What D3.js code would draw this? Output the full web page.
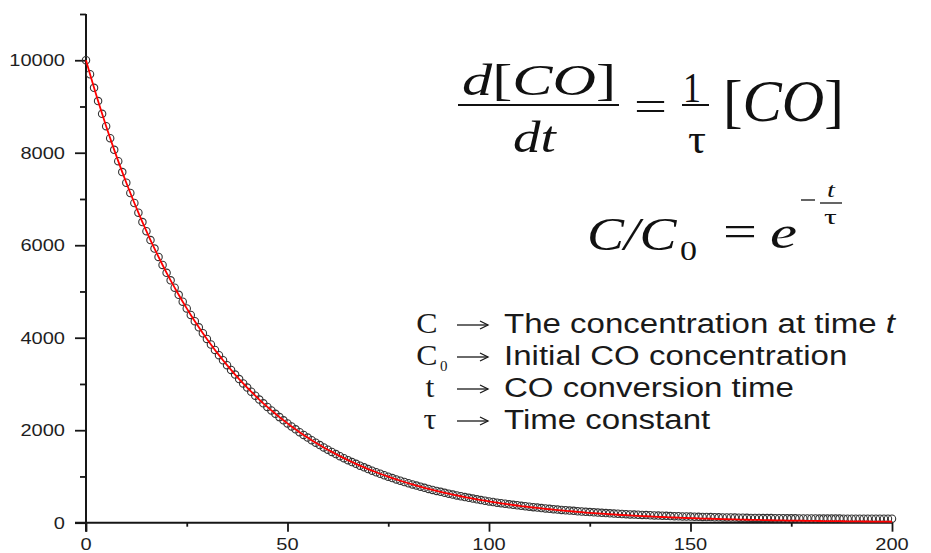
<!DOCTYPE html>
<html>
<head>
<meta charset="utf-8">
<script src="https://cdn.jsdelivr.net/npm/d3@7"></script>
<style>
  html, body { margin: 0; padding: 0; background: #fff; }
  svg { display: block; }
</style>
</head>
<body>
<svg id="chart" width="931" height="553"></svg>
<script>
// CO conversion: sampled concentration (circles) and exponential fit (red line)
const times = [
  0,1,2,3,4,5,6,7,8,9,10,11,12,13,14,15,16,17,18,19,
  20,21,22,23,24,25,26,27,28,29,30,31,32,33,34,35,36,37,38,39,
  40,41,42,43,44,45,46,47,48,49,50,51,52,53,54,55,56,57,58,59,
  60,61,62,63,64,65,66,67,68,69,70,71,72,73,74,75,76,77,78,79,
  80,81,82,83,84,85,86,87,88,89,90,91,92,93,94,95,96,97,98,99,
  100,101,102,103,104,105,106,107,108,109,110,111,112,113,114,115,116,117,118,119,
  120,121,122,123,124,125,126,127,128,129,130,131,132,133,134,135,136,137,138,139,
  140,141,142,143,144,145,146,147,148,149,150,151,152,153,154,155,156,157,158,159,
  160,161,162,163,164,165,166,167,168,169,170,171,172,173,174,175,176,177,178,179,
  180,181,182,183,184,185,186,187,188,189,190,191,192,193,194,195,196,197,198,199,
  200
];

const fitted = [
  10000,9697,9403,9118,8842,8574,8314,8062,7818,7581,
  7351,7129,6913,6703,6500,6303,6112,5927,5747,5573,
  5404,5241,5082,4928,4779,4634,4493,4357,4225,4097,
  3973,3853,3736,3623,3513,3406,3303,3203,3106,3012,
  2921,2832,2746,2663,2582,2504,2428,2355,2283,2214,
  2147,2082,2019,1958,1898,1841,1785,1731,1679,1628,
  1578,1531,1484,1439,1396,1353,1312,1273,1234,1197,
  1160,1125,1091,1058,1026,995,965,936,907,880,
  853,827,802,778,754,731,709,688,667,647,
  627,608,590,572,554,538,521,506,490,475,
  461,447,433,420,408,395,383,372,360,350,
  339,329,319,309,300,291,282,273,265,257,
  249,242,234,227,220,214,207,201,195,189,
  183,178,172,167,162,157,152,148,143,139,
  135,131,127,123,119,115,112,109,105,102,
  99,96,93,90,88,85,82,80,77,75,
  73,71,68,66,64,62,61,59,57,55,
  53,52,50,49,47,46,45,43,42,41,
  39,38,37,36,35,34,33,32,31,30,
  29,28,27,26,26,25,24,23,23,22,
  21
];

// measured points follow the fit closely, then level off slightly above it
const measuredTail = [
  448,434,422,411,398,387,377,365,356,
  346,336,327,317,309,301,292,284,277,269,
  262,256,248,242,236,230,224,219,213,208,
  203,198,193,188,184,180,175,172,168,164,
  161,158,154,151,148,144,142,140,136,134,
  132,129,127,124,123,121,118,117,115,113,
  112,111,108,107,106,104,104,103,101,100,
  99,98,97,96,95,95,94,93,93,92,
  91,91,90,90,90,89,89,89,88,88,
  88,87,87,86,87,87,86,86,87,86,
  86
];
const measured = fitted.slice(0, 101).concat(measuredTail);

const xTicksMajor = [0, 50, 100, 150, 200];
const xTicksMinor = [25, 75, 125, 175];
const yTicksMajor = [0, 2000, 4000, 6000, 8000, 10000];
const yTicksMinor = [1000, 3000, 5000, 7000, 9000, 11000];

const legendSymbols = ["C", "C", "t", "\u03C4"];
const legendSubs = ["", "0", "", ""];
const legendTexts = ["The concentration at time ", "Initial CO concentration", "CO conversion time", "Time constant"];

const svg = d3.select("#chart");
const x = d3.scaleLinear().domain([0, 200]).range([86, 892]);
const y = d3.scaleLinear().domain([0, 11000]).range([522.7, 14]);

const SANS = "'Liberation Sans', Arial, sans-serif";
const SERIF = "'Liberation Serif', 'Times New Roman', serif";
const TEXT_SX = 1.18;

// ---- axes ----
const axisColor = "#161616";
const gx = svg.append("g").attr("transform", `translate(0,${y(0)})`);
gx.call(d3.axisBottom(x).tickValues(xTicksMajor).tickSize(9).tickFormat(""));
gx.append("g").call(d3.axisBottom(x).tickValues(xTicksMinor).tickSize(4).tickFormat(""));
const gy = svg.append("g").attr("transform", `translate(${x(0)},0)`);
gy.call(d3.axisLeft(y).tickValues(yTicksMajor).tickSize(11).tickFormat(""));
gy.append("g").call(d3.axisLeft(y).tickValues(yTicksMinor).tickSize(6).tickFormat(""));
svg.selectAll(".domain").remove();
svg.selectAll(".tick line").attr("stroke", axisColor).attr("stroke-width", 1.8);
svg.append("line").attr("x1", 75).attr("x2", x(200) + 1).attr("y1", y(0)).attr("y2", y(0))
  .attr("stroke", axisColor).attr("stroke-width", 2);
svg.append("line").attr("x1", x(0)).attr("x2", x(0)).attr("y1", y(11000)).attr("y2", y(0) + 9)
  .attr("stroke", axisColor).attr("stroke-width", 2);

// tick labels, slightly widened glyphs
function label(str, px, py, anchor) {
  return svg.append("text").text(str)
    .attr("font-family", SANS).attr("font-size", 17).attr("fill", "#1e1e1e")
    .attr("text-anchor", anchor)
    .attr("transform", `translate(${px},${py}) scale(${TEXT_SX},1)`);
}
yTicksMajor.forEach(v => label(String(v), 65, y(v) + 6, "end"));
xTicksMajor.forEach(v => label(String(v), x(v), 549.5, "middle"));

// ---- data ----
const pts = times.map((t, i) => ({ t, m: measured[i], f: fitted[i] }));
svg.append("g").selectAll("circle").data(pts).join("circle")
  .attr("cx", d => x(d.t)).attr("cy", d => y(d.m)).attr("r", 3.7)
  .attr("fill", "none").attr("stroke", "#333").attr("stroke-width", 1.1);
svg.append("path").datum(pts)
  .attr("d", d3.line().x(d => x(d.t)).y(d => y(d.f)))
  .attr("fill", "none").attr("stroke", "#ff0000").attr("stroke-width", 1.8);

// ---- equations ----
// place a run of text so that it spans [left, right] horizontally on the given baseline
function fit(parts, left, right, baseline, size, family, color) {
  const t = svg.append("text").attr("font-family", family).attr("font-size", size).attr("fill", color || "#111");
  parts.forEach(p => t.append("tspan").text(p[0]).attr("font-style", p[1] ? "italic" : "normal"));
  const bb = t.node().getBBox();
  const sx = (right - left) / bb.width;
  t.attr("transform", `translate(${left - bb.x * sx},${baseline}) scale(${sx},1)`);
  return t;
}
function bar(x1, x2, yy, w) {
  svg.append("line").attr("x1", x1).attr("x2", x2).attr("y1", yy).attr("y2", yy)
    .attr("stroke", "#111").attr("stroke-width", w);
}

fit([["d", 1], ["[", 0], ["CO", 1], ["]", 0]], 462, 616, 95, 44, SERIF);
bar(458, 619, 105, 2);
fit([["dt", 1]], 513, 558, 152, 44, SERIF);
fit([["=", 0]], 634, 667, 119.5, 42, SERIF);
fit([["1", 0]], 683, 701, 102, 42, SERIF);
bar(682, 709, 105, 2);
fit([["\u03C4", 0]], 688, 706, 153, 42, SERIF);
fit([["[", 0], ["CO", 1], ["]", 0]], 723, 844, 121, 60, SERIF);

fit([["C/C", 1]], 587, 678, 250, 46, SERIF);
fit([["0", 0]], 680, 697, 260, 28, SERIF);
fit([["=", 0]], 723, 757, 245.5, 45, SERIF);
fit([["e", 1]], 770, 797, 248, 46, SERIF);
bar(801, 815, 200, 1.3);
fit([["t", 1]], 827, 836, 197, 22, SERIF);
bar(820, 842, 203, 1.3);
fit([["\u03C4", 0]], 824, 837, 224, 22, SERIF);

// ---- legend of symbols ----
const rowBase = [333, 365, 397, 429];
function arrow(x1, x2, yy) {
  const g = svg.append("g").attr("stroke", "#1a1a1a").attr("fill", "none").attr("stroke-width", 1.3);
  g.append("line").attr("x1", x1).attr("x2", x2).attr("y1", yy).attr("y2", yy);
  g.append("path").attr("d", `M${x2 - 8},${yy - 4} L${x2},${yy} L${x2 - 8},${yy + 4}`);
}
legendSymbols.forEach((s, i) => {
  const cx = s === "C" ? 427 : 430;
  svg.append("text").text(s).attr("font-family", SERIF).attr("font-size", 29).attr("fill", "#1a1a1a")
    .attr("text-anchor", "middle")
    .attr("transform", `translate(${cx},${rowBase[i]}) scale(1.1,1)`);
  if (legendSubs[i]) {
    svg.append("text").text(legendSubs[i]).attr("font-family", SERIF).attr("font-size", 15).attr("fill", "#1a1a1a")
      .attr("x", 440).attr("y", rowBase[i] + 6);
  }
  arrow(457, 488, rowBase[i] - 8);
  const tx = svg.append("text").attr("font-family", SANS).attr("font-size", 28).attr("fill", "#1a1a1a")
    .attr("transform", `translate(504,${rowBase[i]}) scale(${TEXT_SX},1)`);
  tx.append("tspan").text(legendTexts[i]);
  if (i === 0) tx.append("tspan").text("t").attr("font-style", "italic");
});
</script>
</body>
</html>
